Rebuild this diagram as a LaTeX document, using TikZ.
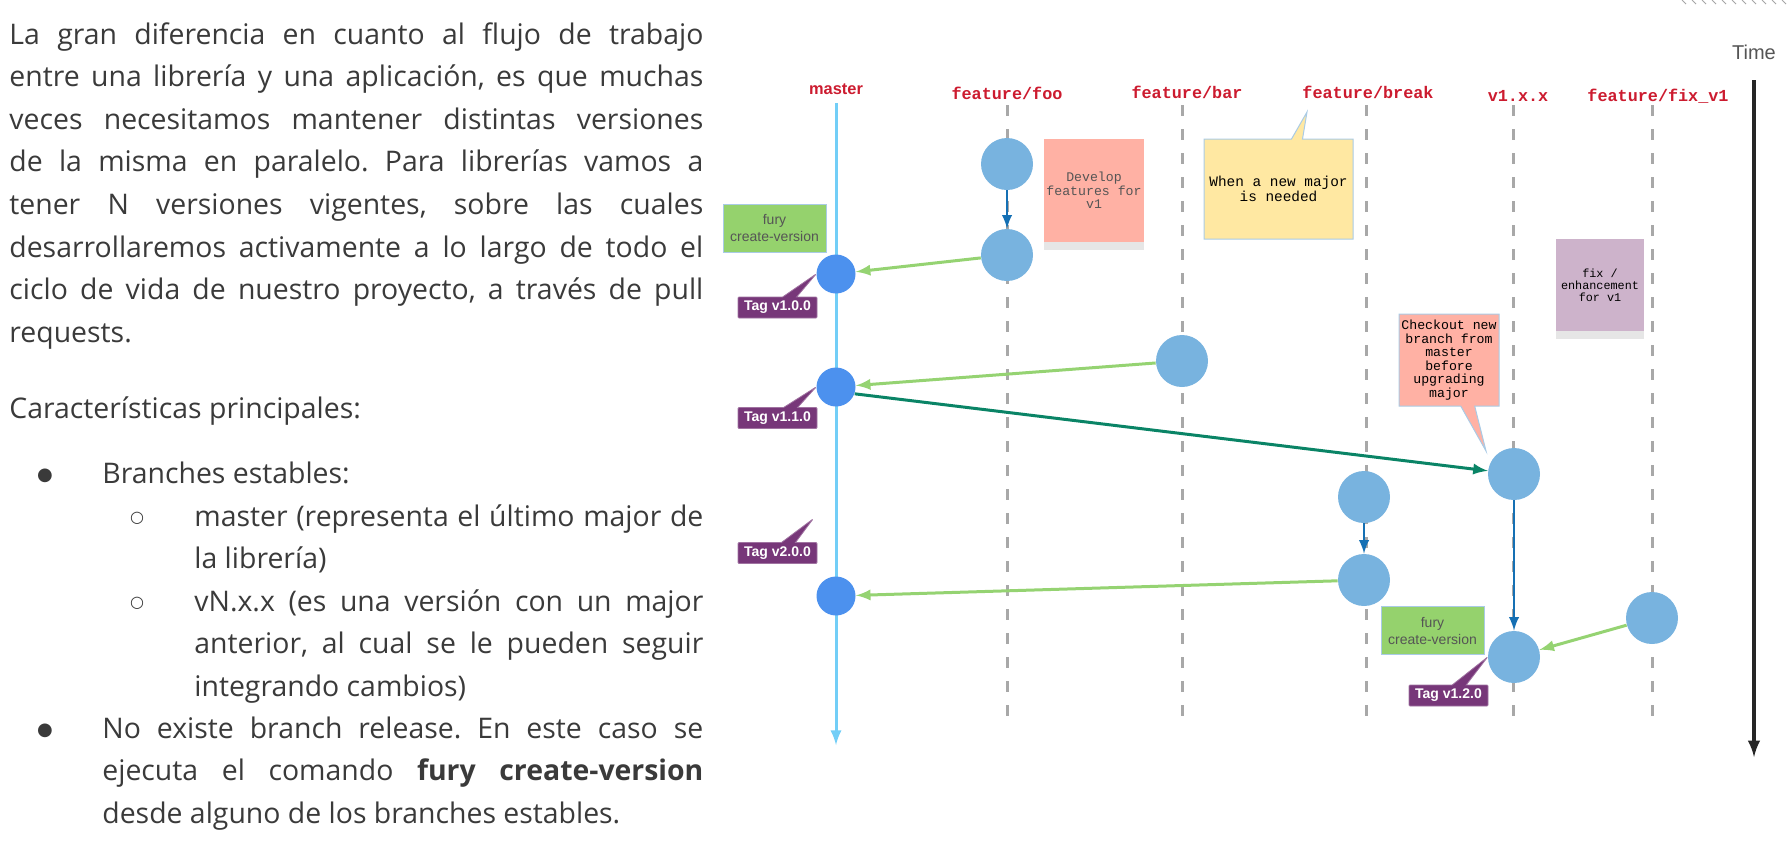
\documentclass[tikz,border=0pt]{standalone}
\usepackage{fontspec}
\setmainfont{Open Sans}
\newfontfamily\labelfont{Liberation Sans}
\newfontfamily\codefont{Liberation Mono}
\newfontfamily\symfont{DejaVu Sans}
\usetikzlibrary{shapes.callouts,shadows}
\frenchspacing
\hyphenpenalty=10000
\exhyphenpenalty=10000
\tolerance=9999

\definecolor{textgray}{HTML}{3A3A3A}
\definecolor{notegray}{HTML}{555555}
\definecolor{branchred}{HTML}{CC1B2F}
\definecolor{masterblue}{HTML}{72CEF7}
\definecolor{tagblue}{HTML}{4C91EE}
\definecolor{commitblue}{HTML}{78B3DF}
\definecolor{mergegreen}{HTML}{95D372}
\definecolor{forkgreen}{HTML}{0A8466}
\definecolor{stepblue}{HTML}{1570B4}
\definecolor{dashgray}{HTML}{A8A8A8}
\definecolor{salmon}{HTML}{FFB1A4}
\definecolor{lemon}{HTML}{FFE8A2}
\definecolor{lilac}{HTML}{CDB3CB}
\definecolor{furygreen}{HTML}{95D26D}
\definecolor{tagpurple}{HTML}{773779}
\definecolor{edgeblue}{HTML}{A9CBE6}

\tikzset{
  bodytext/.style={text=textgray, inner sep=0pt, align=justify, font=\fontsize{14.2}{21.3}\selectfont},
  dot/.style={text=textgray, inner sep=0pt, font=\symfont\fontsize{9}{9}\selectfont},
  ring/.style={text=textgray, inner sep=0pt, font=\symfont\fontsize{8}{8}\selectfont},
  branchlabel/.style={text=branchred, inner sep=0pt, font=\codefont\bfseries\fontsize{8.4}{10}\selectfont},
  masterlabel/.style={text=branchred, inner sep=0pt, font=\labelfont\bfseries\fontsize{8.2}{10}\selectfont},
  lane/.style={dashgray, line width=1.5pt, dash pattern=on 5.5pt off 6.5pt},
  commit/.style={circle, fill=commitblue, minimum size=26pt, inner sep=0pt},
  tagcommit/.style={circle, fill=tagblue, minimum size=19.5pt, inner sep=0pt},
  merge/.style={->, mergegreen, line width=1.5pt},
  fork/.style={->, forkgreen, line width=1.5pt},
  stepline/.style={->, stepblue, line width=1.3pt},
  note/.style={rectangle, inner sep=1pt, align=center, font=\codefont\fontsize{6.6}{6.8}\selectfont},
  fury/.style={rectangle, fill=furygreen, draw=edgeblue, line width=0.5pt, text=notegray, align=center,
    minimum width=51.5pt, minimum height=24pt, inner sep=1pt, font=\labelfont\fontsize{7}{8.5}\selectfont},
  tag/.style={rectangle callout, fill=tagpurple, draw=tagpurple!70!white, line width=0.4pt, text=white,
    callout pointer width=7pt, minimum width=39.5pt, minimum height=10.5pt, inner sep=0pt,
    rounded corners=0.5pt, font=\labelfont\bfseries\fontsize{7}{8}\selectfont},
}

\begin{document}
\begin{tikzpicture}[x=0.5pt, y=-0.5pt, >=latex]
	\useasboundingbox (0,0) rectangle (1789,863);

	% text on the left
	\node[bodytext, text width=347pt, anchor=base west] (intro) at (9,44) {%
		La gran diferencia en cuanto al flujo de trabajo\linebreak
		entre una librería y una aplicación, es que muchas\linebreak
		veces necesitamos mantener distintas versiones\linebreak
		de la misma en paralelo. Para librerías vamos a\linebreak
		tener N versiones vigentes, sobre las cuales\linebreak
		desarrollaremos activamente a lo largo de todo el\linebreak
		ciclo de vida de nuestro proyecto, a través de pull\linebreak
		requests.};
	\node[bodytext, anchor=base west] (caract) at (9,418) {Características principales:};

	\node[dot] (dotA) at (45,476) {●};
	\node[bodytext, anchor=base west] (itemA) at (102,483) {Branches estables:};
	\node[ring] (ringB) at (137,518) {○};
	\node[bodytext, text width=254.5pt, anchor=base west] (itemB) at (194,526) {%
		master (representa el último major de\linebreak
		la librería)};
	\node[ring] (ringC) at (137,603) {○};
	\node[bodytext, text width=254.5pt, anchor=base west] (itemC) at (194,611) {%
		vN.x.x (es una versión con un major\linebreak
		anterior, al cual se le pueden seguir\linebreak
		integrando cambios)};
	\node[dot] (dotD) at (45,731) {●};
	\node[bodytext, text width=300.5pt, anchor=base west] (itemD) at (102,738) {%
		No existe branch release. En este caso se\linebreak
		ejecuta el comando \textbf{fury create-version}\linebreak
		desde alguno de los branches estables.};

	% branches
	\node[masterlabel] (lmaster) at (836,89) {master};
	\node[branchlabel] (lfoo) at (1007,93) {feature/foo};
	\node[branchlabel] (lbar) at (1187,92) {feature/bar};
	\node[branchlabel] (lbreak) at (1368,92) {feature/break};
	\node[branchlabel] (lvone) at (1518,96) {v1.x.x};
	\node[branchlabel] (lfix) at (1658,96) {feature/fix\_v1};

	\coordinate (mastertop) at (836,103);
	\coordinate (masterbot) at (836,745);
	\draw[->, masterblue, line width=1.5pt] (mastertop) -- (masterbot);
	\foreach \name/\x in {foo/1007, bar/1182, break/1366, vone/1513, fix/1652} {
		\coordinate (\name top) at (\x,105);
		\coordinate (\name bot) at (\x,720);
		\draw[lane] (\name top) -- (\name bot);
	}

	% time axis
	\node[text=notegray, inner sep=0pt, font=\labelfont\fontsize{10}{12}\selectfont] (time) at (1754,52) {Time};
	\coordinate (timetop) at (1754,80);
	\coordinate (timebot) at (1754,757);
	\draw[->, black!85, line width=1.8pt] (timetop) -- (timebot);
	\foreach \h in {1682,1692,...,1782}
		\draw[gray!70, line width=0.5pt] (\h,0) -- ++(4,4);

	% commits
	\node[commit] (foo1) at (1007,164) {};
	\node[commit] (foo2) at (1007,255) {};
	\node[commit] (bar1) at (1182,361) {};
	\node[commit] (brk1) at (1364,497) {};
	\node[commit] (brk2) at (1364,580) {};
	\node[commit] (vone1) at (1514,474) {};
	\node[commit] (vone2) at (1514,657) {};
	\node[commit] (fix1) at (1652,618) {};
	\node[tagcommit] (m1) at (836,274) {};
	\node[tagcommit] (m2) at (836,387) {};
	\node[tagcommit] (m3) at (836,596) {};

	\draw[stepline] (foo1) -- (foo2);
	\draw[stepline] (brk1) -- (brk2);
	\draw[stepline] (vone1) -- (vone2);
	\draw[merge] (foo2) -- (m1);
	\draw[merge] (bar1) -- (m2);
	\draw[merge] (brk2) -- (m3);
	\draw[merge] (fix1) -- (vone2);
	\draw[fork] (m2.-20) -- (vone1);

	% notes
	\node[note, fill=salmon, text=notegray, minimum width=50pt, minimum height=51.5pt,
		drop shadow={shadow xshift=0pt, shadow yshift=-4pt, opacity=0.2}] (develop) at (1094,190.5)
		{Develop\\features for\\v1};
	\coordinate (majortip) at (1307,112);
	\node[note, rectangle callout, callout absolute pointer={(majortip)}, callout pointer width=5.5pt,
		fill=lemon, draw=edgeblue, line width=0.5pt, minimum width=74.5pt, minimum height=50pt,
		font=\codefont\fontsize{7.2}{7.5}\selectfont] (major) at (1278.5,189)
		{When a new major\\is needed};
	\node[note, fill=lilac, minimum width=44pt, minimum height=46pt,
		drop shadow={shadow xshift=0pt, shadow yshift=-4pt, opacity=0.2},
		font=\codefont\fontsize{5.9}{6}\selectfont] (fixnote) at (1600,285)
		{fix /\\enhancement\\for v1};
	\coordinate (checkouttip) at (1486,451);
	\node[note, rectangle callout, callout absolute pointer={(checkouttip)}, callout pointer width=7pt,
		fill=salmon, draw=edgeblue, line width=0.5pt, minimum width=50pt, minimum height=46pt] (checkout) at (1449,360)
		{Checkout new\\branch from\\master\\before\\upgrading\\major};

	\node[fury] (fury1) at (774.5,228) {fury\\create-version};
	\node[fury] (fury2) at (1432.5,630.5) {fury\\create-version};

	% tags
	\coordinate (tiptwo) at (813,519);
	\node[tag, callout absolute pointer={(m1.west)}] (tag100) at (777.5,307.5) {Tag v1.0.0};
	\node[tag, callout absolute pointer={(m2.west)}] (tag110) at (777.5,418) {Tag v1.1.0};
	\node[tag, callout absolute pointer={(tiptwo)}] (tag200) at (777.5,553) {Tag v2.0.0};
	\node[tag, callout absolute pointer={(vone2.west)}] (tag120) at (1448.5,695.5) {Tag v1.2.0};
\end{tikzpicture}
\end{document}
